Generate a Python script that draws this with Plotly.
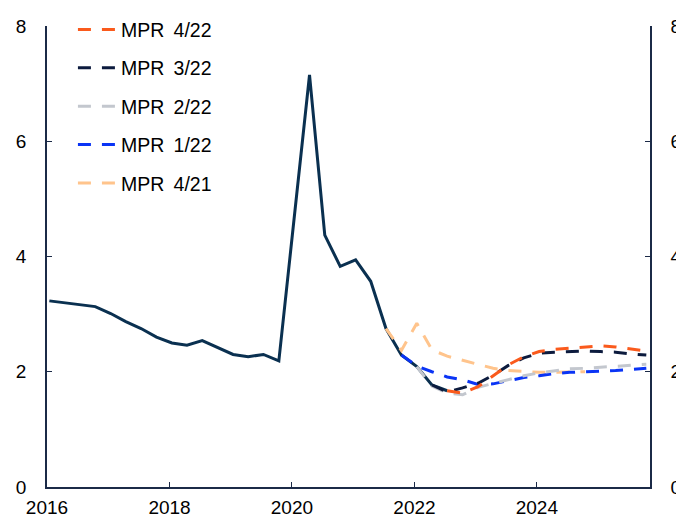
import pandas as pd
import plotly.graph_objects as go

# quarterly values, plotted mid-month of the first month in each quarter
hist_start = "2016-01-15"
history = [
    3.23, 3.20, 3.17, 3.13,
    3.01, 2.87, 2.75, 2.60,
    2.50, 2.46, 2.54, 2.42,
    2.30, 2.26, 2.30, 2.19,
    4.70, 7.15, 4.37, 3.83,
    3.94, 3.57, 2.75, 2.29,
    2.09, 1.77, 1.67,
]

mpr_4_22_start = "2022-07-15"
mpr_4_22 = [1.67, 1.63, 1.74, 1.93, 2.12, 2.26, 2.35, 2.39, 2.41, 2.44, 2.45, 2.43, 2.39, 2.36]

mpr_3_22_start = "2022-04-15"
mpr_3_22 = [1.77, 1.65, 1.72, 1.80, 1.94, 2.11, 2.24, 2.32, 2.34, 2.35, 2.36, 2.35, 2.34, 2.31, 2.29]

mpr_2_22_start = "2022-01-15"
mpr_2_22 = [2.09, 1.75, 1.63, 1.60, 1.73, 1.80, 1.87, 1.93, 1.98, 2.02, 2.05, 2.06, 2.08, 2.10, 2.12, 2.13]

mpr_1_22_start = "2021-10-15"
mpr_1_22 = [2.29, 2.10, 2.00, 1.91, 1.86, 1.78, 1.79, 1.84, 1.90, 1.93, 1.97, 1.99, 2.00, 2.00, 2.02, 2.04, 2.06]

mpr_4_21_start = "2021-07-15"
mpr_4_21 = [2.75, 2.37, 2.84, 2.38, 2.27, 2.20, 2.12, 2.06, 2.02, 2.00, 1.99, 1.99, 2.00, 2.00]

y_ticks = [0, 2, 4, 6, 8]

FONT = "Liberation Sans, Arial, sans-serif"
AXIS_COLOR = "#1B2A47"


def q_dates(start, n):
    base = pd.Timestamp(start)
    return [base + pd.DateOffset(months=3 * i) for i in range(n)]


fig = go.Figure()

fig.add_trace(go.Scatter(
    x=q_dates(hist_start, len(history)), y=history, mode="lines",
    line=dict(color="#0A3050", width=3), showlegend=False, hoverinfo="skip",
))

# drawn oldest first; legendrank puts the newest report on top of the legend
forecasts = [
    ("MPR\u2009 4/21", mpr_4_21_start, mpr_4_21, "#FFC48C", 5),
    ("MPR\u2009 1/22", mpr_1_22_start, mpr_1_22, "#0A34F5", 4),
    ("MPR\u2009 2/22", mpr_2_22_start, mpr_2_22, "#C3C7CE", 3),
    ("MPR\u2009 3/22", mpr_3_22_start, mpr_3_22, "#0C1B3E", 2),
    ("MPR\u2009 4/22", mpr_4_22_start, mpr_4_22, "#FA5A1C", 1),
]
for name, start, vals, color, rank in forecasts:
    fig.add_trace(go.Scatter(
        x=q_dates(start, len(vals)), y=vals, mode="lines", name=name,
        legendgroup=name, legendrank=rank,
        line=dict(color=color, width=3, dash="13px,11px"),
    ))

# invisible copy so the right-hand axis is drawn
fig.add_trace(go.Scatter(
    x=q_dates(hist_start, len(history)), y=history, yaxis="y2", mode="lines",
    line=dict(width=0), opacity=0, showlegend=False, hoverinfo="skip",
))

axis_common = dict(
    showgrid=False, zeroline=False, showline=True, linecolor=AXIS_COLOR, linewidth=1.5,
    ticks="inside", ticklen=5, tickcolor=AXIS_COLOR, tickwidth=1,
    tickfont=dict(family=FONT, size=19, color="black"), ticklabeloverflow="allow",
)

fig.update_layout(
    width=676, height=515,
    margin=dict(l=47, r=26, t=26, b=28, autoexpand=False),
    paper_bgcolor="white", plot_bgcolor="white",
    font=dict(family=FONT, size=19, color="black"),
    xaxis=dict(
        **axis_common, type="date", range=["2016-01-01", "2025-11-06"],
        tick0="2016-01-01", dtick="M24", tickformat="%Y", ticklabelstandoff=2,
    ),
    yaxis=dict(**axis_common, range=[0, 8], tickvals=y_ticks, ticklabelstandoff=15),
    yaxis2=dict(
        **axis_common, range=[0, 8], tickvals=y_ticks, overlaying="y", side="right",
        ticklabelstandoff=15, automargin=False,
    ),
    legend=dict(
        x=0.043, y=1.034, xanchor="left", yanchor="top", bgcolor="rgba(0,0,0,0)",
        traceorder="grouped", tracegroupgap=10, itemwidth=38,
        font=dict(family=FONT, size=19.5, color="black"),
    ),
)

# drop the default page margin so the figure fills the window exactly
fig.write_html(
    "out.html",
    config={"displayModeBar": False},
    post_script="document.body.style.margin = '0px';",
)
